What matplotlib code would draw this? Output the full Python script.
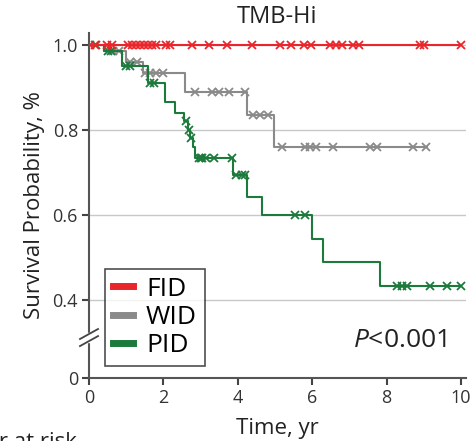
import numpy as np
import matplotlib.pyplot as plt

plt.rcParams['font.family'] = ['Open Sans', 'DejaVu Sans']
plt.rcParams['mathtext.fontset'] = 'custom'
plt.rcParams['mathtext.it'] = 'Open Sans:italic'
plt.rcParams['mathtext.rm'] = 'Open Sans'

groups = ['FID', 'WID', 'PID']
colors = ['#e8262b', '#8a8a8a', '#1c7a3c']

# Kaplan-Meier steps (time in years, survival)
fid_times = [0]
fid_surv = [1.0]
fid_end = 10.0
fid_cens = [0.03, 0.16, 0.48, 0.62, 1.05, 1.16, 1.26, 1.37, 1.48, 1.59, 1.69, 1.8,
            2.07, 2.18, 2.77, 3.23, 3.71, 4.38, 5.13, 5.43, 5.78, 5.97, 6.48, 6.64,
            6.8, 7.1, 7.26, 8.9, 9.01, 10.0]

wid_times = [0, 0.4, 1.0, 1.45, 2.58, 4.25, 4.97]
wid_surv = [1.0, 0.985, 0.96, 0.934, 0.889, 0.835, 0.76]
wid_end = 9.09
wid_cens = [0.65, 0.8, 1.1, 1.3, 1.5, 1.65, 1.8, 2.0, 2.85, 3.3, 3.5, 3.75, 4.2,
            4.4, 4.6, 4.8, 5.2, 5.8, 5.95, 6.1, 6.55, 7.55, 7.75, 8.7, 9.05]

pid_times = [0, 0.4, 0.9, 1.58, 2.03, 2.3, 2.55, 2.65, 2.72, 2.8, 2.85, 3.87,
             4.25, 4.65, 5.99, 6.29, 7.82]
pid_surv = [1.0, 0.985, 0.95, 0.91, 0.865, 0.84, 0.82, 0.80, 0.78, 0.76, 0.734,
            0.694, 0.642, 0.60, 0.543, 0.489, 0.433]
pid_end = 10.0
pid_cens = [0.2, 0.5, 0.6, 1.0, 1.1, 1.65, 1.75, 2.6, 2.68, 2.75, 2.95, 3.0, 3.05,
            3.15, 3.35, 3.85, 3.95, 4.1, 4.2, 5.55, 5.8, 8.28, 8.41, 8.55, 9.17,
            9.62, 10.0]

curves = [(fid_times, fid_surv, fid_end, fid_cens),
          (wid_times, wid_surv, wid_end, wid_cens),
          (pid_times, pid_surv, pid_end, pid_cens)]

y_zero = 0.2165  # where the broken axis puts "0"

fig = plt.figure(figsize=(4.72, 4.41), dpi=100)
ax = fig.add_axes([89 / 472, 1 - 378 / 441, 376.5 / 472, 345 / 441])

for y in [0.4, 0.6, 0.8, 1.0]:
    ax.axhline(y, color='#c8c8c8', lw=1, zorder=0)

for (t, s, end, cens), name, c in zip(curves, groups, colors):
    tt = list(t) + [end]
    ss = list(s) + [s[-1]]
    ax.step(tt, ss, where='post', color=c, lw=1.5, zorder=3 if name == 'FID' else 2)
    ct = np.array(cens)
    idx = np.searchsorted(t, ct, side='right') - 1
    cs = np.array(s)[idx]
    ax.plot(ct, cs, 'x', color=c, ms=6, mew=1.3, zorder=3 if name == 'FID' else 2)

ax.set_xlim(0, 10.12)
ax.set_ylim(y_zero, 1.028)
ax.set_xticks([0, 2, 4, 6, 8, 10])
ax.set_yticks([y_zero, 0.4, 0.6, 0.8, 1.0])
ax.set_yticklabels(['0', '0.4', '0.6', '0.8', '1.0'])
ax.tick_params(direction='out', length=5, width=1.5, color='#444444',
               labelsize=13, labelcolor='#333333', pad=3)
for side in ['top', 'right']:
    ax.spines[side].set_visible(False)
for side in ['left', 'bottom']:
    ax.spines[side].set_color('#555555')
    ax.spines[side].set_linewidth(1.5)

# axis break marks
ax.add_patch(plt.Rectangle((-0.012, 0.104), 0.024, 0.026, transform=ax.transAxes,
                           color='white', clip_on=False, zorder=5))
for yb in [0.1275, 0.107]:
    ax.plot([-0.024, 0.024], [yb - 0.0145, yb + 0.0145], color='#444444', lw=1.3,
            transform=ax.transAxes, clip_on=False, zorder=6)

ax.set_title('TMB-Hi', fontsize=17, color='#222222', pad=7)
ax.set_xlabel('Time, yr', fontsize=16, color='#222222', labelpad=8)
ax.set_ylabel('Survival Probability, %', fontsize=16, color='#222222', labelpad=5)

ax.text(9.62, 0.289, r'$\mathit{P}$<0.001', fontsize=19, ha='right', va='baseline',
        color='#222222')

handles = [plt.Line2D([], [], color=c, lw=5) for c in colors]
leg = ax.legend(handles, groups, loc='lower left', bbox_to_anchor=(0.0425, 0.035),
                borderaxespad=0, fontsize=19, frameon=True, fancybox=False,
                handlelength=0.75, handletextpad=0.5, labelspacing=0.12,
                borderpad=0.3)
leg.get_frame().set_edgecolor('#222222')
leg.get_frame().set_linewidth(1.2)

# partly cut off at the lower edge, as in the source figure
fig.text(-0.165, 1 - 432 / 441, 'Number at risk', fontsize=16, va='top', ha='left',
         color='#222222')

fig.savefig('out.png', dpi=100)
